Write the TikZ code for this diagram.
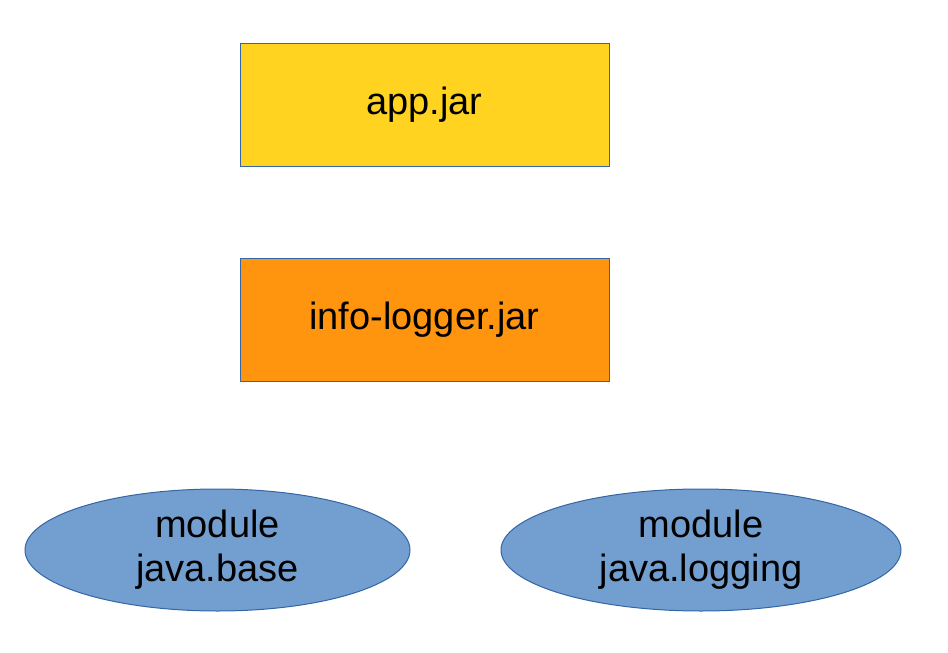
\documentclass[tikz,border=0pt]{standalone}
\usepackage{fontspec}
\setmainfont{Liberation Sans}
\usetikzlibrary{shapes.geometric}
\definecolor{jaryellow}{HTML}{FFD320}
\definecolor{jarorange}{HTML}{FF950E}
\definecolor{modblue}{HTML}{729FCF}
\definecolor{edgeblue}{HTML}{3465A4}

\begin{document}
\begin{tikzpicture}[x=1pt,y=-1pt,inner sep=0pt,outer sep=0pt,
	jarbox/.style={rectangle, draw = edgeblue, line width=1pt, minimum width=369pt, minimum height=123pt, font=\fontsize{38}{44}\selectfont},
	modnode/.style={ellipse, draw = edgeblue, line width=1pt, fill=modblue, minimum height=122pt, align=center, font=\fontsize{38}{44}\selectfont}]
	\useasboundingbox (0,0) rectangle (948,653);
	\node[jarbox, fill=jaryellow] at (424.5,104.5) (app) {app.jar};
	\node[jarbox, fill=jarorange] at (424.5,319.5) (logger) {info-logger.jar};
	
	\node[modnode, minimum width=385pt] at (217.5,550) (base) {module\\java.base};
	\node[modnode, minimum width=400pt] at (701,550) (logging) {module\\java.logging};
\end{tikzpicture}
\end{document}
